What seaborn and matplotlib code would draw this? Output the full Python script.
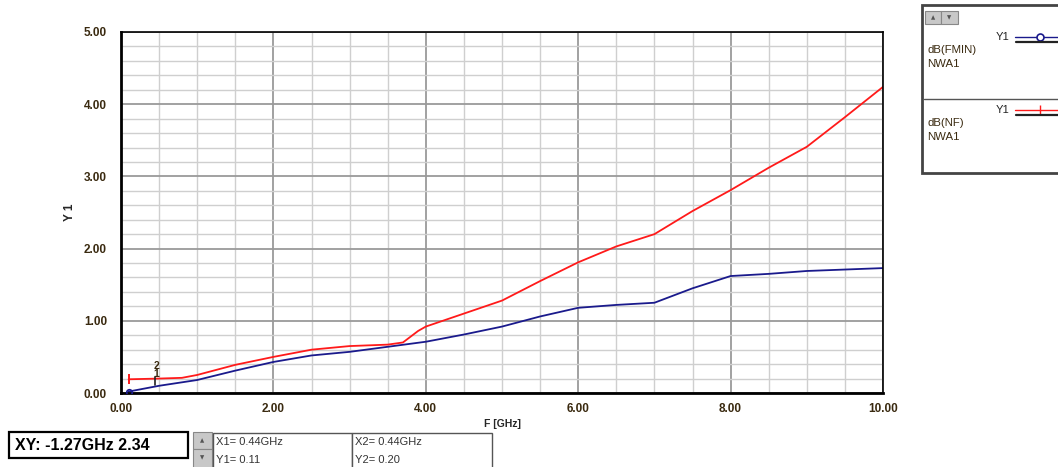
import numpy as np
import pandas as pd
import matplotlib
matplotlib.use("Agg")
import matplotlib.pyplot as plt
from matplotlib.patches import Rectangle
from matplotlib.lines import Line2D
import matplotlib.ticker as mticker
import seaborn as sns

# ---- data -------------------------------------------------------------
freq_fmin = [0.1, 0.5, 1.0, 1.5, 2.0, 2.5, 3.0, 3.5, 4.0, 4.5, 5.0,
             5.5, 6.0, 6.5, 7.0, 7.5, 8.0, 8.5, 9.0, 9.5, 10.0]
db_fmin = [0.02, 0.10, 0.18, 0.31, 0.43, 0.52, 0.57, 0.64, 0.71, 0.81, 0.92,
           1.06, 1.18, 1.22, 1.25, 1.45, 1.62, 1.65, 1.69, 1.71, 1.73]

freq_nf = [0.1, 0.5, 0.8, 1.0, 1.5, 2.0, 2.5, 3.0, 3.5, 3.7, 3.8, 3.9, 4.0,
           4.5, 5.0, 5.5, 6.0, 6.5, 7.0, 7.5, 8.0, 8.5, 9.0, 9.5, 10.0]
db_nf = [0.19, 0.20, 0.21, 0.25, 0.39, 0.50, 0.60, 0.65, 0.67, 0.70, 0.78, 0.86, 0.92,
         1.10, 1.28, 1.55, 1.81, 2.03, 2.20, 2.52, 2.81, 3.12, 3.41, 3.82, 4.24]

trace_names = ["dB(FMIN)", "dB(NF)"]
trace_colors = ["#1a1a8c", "#ff1a1a"]
source_name = "NWA1"
y_axis_label = "Y 1"
x_axis_label = "F [GHz]"

marker_freq = 0.44
marker_vals = [0.11, 0.20]
readout_text = "XY: -1.27GHz 2.34"

df = pd.concat([
    pd.DataFrame({"F": freq_fmin, "val": db_fmin, "trace": trace_names[0]}),
    pd.DataFrame({"F": freq_nf, "val": db_nf, "trace": trace_names[1]}),
])

# ---- figure -----------------------------------------------------------
sns.set_style("white")
plt.rcParams["font.family"] = ["Liberation Sans", "DejaVu Sans"]

W, H = 1058, 467
fig = plt.figure(figsize=(W / 100, H / 100), dpi=100)
fig.patch.set_facecolor("white")


def fx(px):
    return px / W


def fy(py):
    return 1 - py / H


ax = fig.add_axes([fx(121), fy(393), fx(883) - fx(121), fy(32) - fy(393)])

sns.lineplot(data=df, x="F", y="val", hue="trace", palette=trace_colors,
             hue_order=trace_names, ax=ax, legend=False, linewidth=1.3,
             estimator=None, sort=True)

# start markers on each trace
ax.plot(freq_fmin[0], db_fmin[0], marker="o", ms=4, mfc="none",
        mec=trace_colors[0], mew=1.2, zorder=5)
ax.plot(freq_nf[0], db_nf[0], marker="|", ms=7, color=trace_colors[1],
        mew=1.4, zorder=5)

ax.set_xlim(0, 10)
ax.set_ylim(0, 5)

# grid: light minor lines, darker major lines
ax.xaxis.set_major_locator(mticker.MultipleLocator(2))
ax.xaxis.set_minor_locator(mticker.MultipleLocator(0.5))
ax.yaxis.set_major_locator(mticker.MultipleLocator(1))
ax.yaxis.set_minor_locator(mticker.MultipleLocator(0.2))
ax.xaxis.set_major_formatter(mticker.FormatStrFormatter("%.2f"))
ax.yaxis.set_major_formatter(mticker.FormatStrFormatter("%.2f"))
ax.grid(which="minor", color="#cfcfcf", linewidth=1.0)
ax.grid(which="major", color="#9a9a9a", linewidth=1.3)
ax.set_axisbelow(True)

for side in ["left", "bottom", "top", "right"]:
    ax.spines[side].set_visible(True)
    ax.spines[side].set_color("black")
    ax.spines[side].set_linewidth(2.0)
ax.spines["top"].set_linewidth(1.2)
ax.spines["right"].set_linewidth(1.2)

ax.tick_params(axis="y", which="major", direction="out", length=9,
               width=1.5, color="#333333", labelsize=8.5, pad=1)
ax.tick_params(axis="x", which="major", direction="out", length=6,
               width=1.5, color="#333333", labelsize=8.5, pad=1)
ax.tick_params(axis="both", which="minor", direction="out", length=5,
               width=1.2, color="#333333")
for lab in ax.get_xticklabels() + ax.get_yticklabels():
    lab.set_fontweight("bold")
    lab.set_color("#3a2a10")

ax.set_xlabel(x_axis_label, fontsize=7.5, fontweight="bold", labelpad=3)
ax.set_ylabel(y_axis_label, fontsize=8.5, fontweight="bold", labelpad=6)

# marker flags at the cursor frequency
ax.plot([marker_freq, marker_freq], [marker_vals[0], marker_vals[1] + 0.02],
        color="#222222", linewidth=1.2, zorder=6)
ax.text(marker_freq + 0.02, marker_vals[1] + 0.17, "2", fontsize=7.5,
        fontweight="bold", ha="center", va="center", color="#3a2a10", zorder=7)
ax.text(marker_freq + 0.02, marker_vals[1] + 0.06, "1", fontsize=7.5,
        fontweight="bold", ha="center", va="center", color="#3a2a10", zorder=7)

# ---- trace legend panel (right) ---------------------------------------
def rect(x0, y0, x1, y1, **kw):
    r = Rectangle((fx(x0), fy(y1)), fx(x1) - fx(x0), fy(y0) - fy(y1),
                  transform=fig.transFigure, **kw)
    fig.add_artist(r)


def hline(x0, x1, y, **kw):
    fig.add_artist(Line2D([fx(x0), fx(x1)], [fy(y), fy(y)],
                          transform=fig.transFigure, **kw))


rect(922, 5, 1062, 173, facecolor="white", edgecolor="#444444", linewidth=2)
rect(925, 11, 941, 24, facecolor="#c8c8c8", edgecolor="#888888", linewidth=0.8)
rect(941, 11, 958, 24, facecolor="#c8c8c8", edgecolor="#888888", linewidth=0.8)
fig.text(fx(933), fy(17.5), "▲", fontsize=4, ha="center", va="center",
         color="#555555", family=["DejaVu Sans"])
fig.text(fx(949.5), fy(17.5), "▼", fontsize=4, ha="center", va="center",
         color="#555555", family=["DejaVu Sans"])
hline(924, 1058, 99, color="#555555", linewidth=1.0)

legend_rows = [(37, trace_names[0], trace_colors[0], "o"),
               (110, trace_names[1], trace_colors[1], "|")]
for y0, name, col, mk in legend_rows:
    fig.text(fx(1009), fy(y0), "Y1", fontsize=8, ha="right", va="center",
             color="#222222")
    hline(1015, 1058, y0, color=col, linewidth=1.0)
    if mk == "o":
        fig.add_artist(Line2D([fx(1040)], [fy(y0)], marker="o", ms=5,
                              mfc="white", mec=col, mew=1.2,
                              transform=fig.transFigure))
    else:
        fig.add_artist(Line2D([fx(1040)], [fy(y0)], marker="|", ms=7,
                              color=col, mew=1.0, transform=fig.transFigure))
    hline(1016, 1058, y0 + 5, color="#222222", linewidth=1.6)
    fig.text(fx(927), fy(y0 + 13), name, fontsize=8.2, ha="left",
             va="center", color="#3a2a10")
    fig.text(fx(927), fy(y0 + 27), source_name, fontsize=8.2, ha="left",
             va="center", color="#3a2a10")

# ---- cursor readout panels (bottom) -----------------------------------
rect(9, 432, 188, 458, facecolor="white", edgecolor="black", linewidth=1.6)
fig.text(fx(15), fy(445), readout_text, fontsize=11.5, fontweight="bold",
         ha="left", va="center", color="black")

rect(193, 432, 212, 449, facecolor="#c8c8c8", edgecolor="#888888", linewidth=0.8)
rect(193, 449, 212, 468, facecolor="#c8c8c8", edgecolor="#888888", linewidth=0.8)
fig.text(fx(202.5), fy(440.5), "▲", fontsize=4, ha="center", va="center",
         color="#555555", family=["DejaVu Sans"])
fig.text(fx(202.5), fy(458), "▼", fontsize=4, ha="center", va="center",
         color="#555555", family=["DejaVu Sans"])

rect(213, 433, 352, 470, facecolor="white", edgecolor="#555555", linewidth=1.0)
rect(352, 433, 492, 470, facecolor="white", edgecolor="#555555", linewidth=1.0)
for i, x0 in enumerate([216, 355]):
    fig.text(fx(x0), fy(442), f"X{i + 1}= {marker_freq:.2f}GHz", fontsize=8,
             ha="left", va="center", color="#333333")
    fig.text(fx(x0), fy(460), f"Y{i + 1}= {marker_vals[i]:.2f}", fontsize=8,
             ha="left", va="center", color="#333333")

fig.savefig("out.png", dpi=100, facecolor="white")
